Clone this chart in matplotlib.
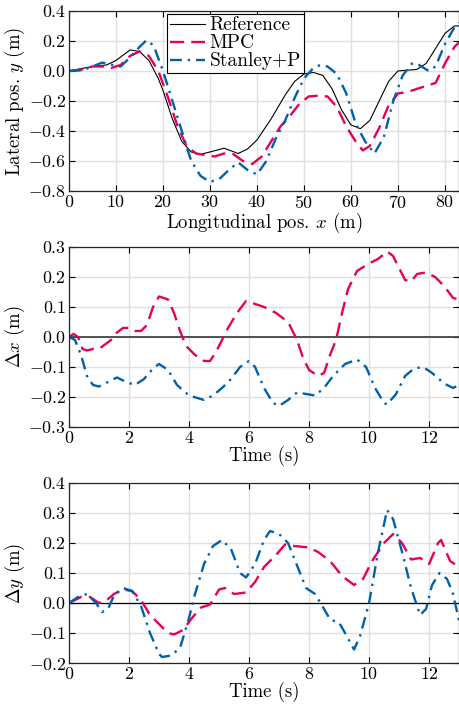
import matplotlib
matplotlib.use('Agg')
import matplotlib.pyplot as plt

plt.rcParams['font.family'] = 'serif'
plt.rcParams['font.serif'] = ['cmr10']
plt.rcParams['mathtext.fontset'] = 'cm'
plt.rcParams['axes.formatter.use_mathtext'] = True
plt.rcParams['font.size'] = 13
plt.rcParams['xtick.labelsize'] = 12.8
plt.rcParams['ytick.labelsize'] = 12.8
plt.rcParams['axes.labelsize'] = 13.5

# --- top panel: path in x-y plane ---
ref_x = [0, 5, 8, 10, 13, 15, 17, 19, 20, 22, 24, 26, 28, 30, 33, 36, 38, 40, 43, 46, 48, 50,
         52, 54, 56, 58, 60, 62, 64, 66, 68, 70, 72, 74, 76, 78, 80, 82, 83]
ref_y = [0, 0.03, 0.04, 0.07, 0.14, 0.13, 0.07, -0.05, -0.13, -0.32, -0.47, -0.54, -0.555, -0.54,
         -0.515, -0.55, -0.52, -0.46, -0.32, -0.16, -0.07, -0.02, -0.01, -0.03, -0.12, -0.26,
         -0.36, -0.385, -0.33, -0.2, -0.07, 0.0, 0.005, 0.01, 0.05, 0.15, 0.25, 0.30, 0.30]

mpc_x = [0, 3, 5, 7, 9, 11, 13, 15, 17, 19, 21, 23, 25, 27, 29, 31, 33, 35, 37, 39, 41, 43, 45,
         47, 49, 51, 53, 55, 57, 59, 61, 62.5, 64, 66, 68, 70, 72, 74, 76, 78, 80, 82, 83]
mpc_y = [0, 0.01, 0.03, 0.03, 0.02, 0.04, 0.1, 0.13, 0.1, 0.0, -0.17, -0.36, -0.5, -0.55, -0.56,
         -0.57, -0.55, -0.555, -0.6, -0.62, -0.57, -0.47, -0.37, -0.3, -0.22, -0.17, -0.165,
         -0.17, -0.24, -0.37, -0.47, -0.53, -0.5, -0.38, -0.23, -0.15, -0.14, -0.12, -0.1, -0.08,
         0.05, 0.16, 0.19]

stp_x = [0, 3, 5, 7, 8.5, 10, 11, 13, 15, 16.5, 18, 20, 22, 24, 26, 28, 30, 32, 34, 36, 38, 40,
         42, 44, 46, 48, 50, 52, 53.5, 55, 57, 59, 61, 63, 65, 67, 69, 71, 73, 74, 75, 76.5, 78,
         80, 82, 83]
stp_y = [0, 0.005, 0.03, 0.055, 0.05, 0.03, 0.03, 0.09, 0.16, 0.205, 0.17, 0.0, -0.2, -0.4, -0.6,
         -0.7, -0.74, -0.72, -0.66, -0.61, -0.66, -0.69, -0.6, -0.45, -0.33, -0.18, -0.05, 0.02,
         0.04, 0.03, -0.02, -0.15, -0.35, -0.47, -0.55, -0.44, -0.2, -0.03, 0.05, 0.05, 0.03,
         0.0, 0.03, 0.18, 0.29, 0.32]

# --- middle panel: longitudinal error ---
dx_mpc_t = [0, 0.15, 0.3, 0.45, 0.6, 0.8, 1.0, 1.2, 1.4, 1.6, 1.8, 2.0, 2.2, 2.4, 2.6, 2.8, 3.0,
            3.3, 3.5, 3.7, 3.9, 4.2, 4.5, 4.7, 4.9, 5.1, 5.3, 5.6, 5.9, 6.2, 6.5, 6.9, 7.3, 7.6,
            7.8, 8.0, 8.3, 8.5, 8.7, 8.9, 9.1, 9.3, 9.6, 10.0, 10.3, 10.6, 10.8, 11.0, 11.2,
            11.4, 11.6, 11.9, 12.2, 12.5, 12.8, 13.0]
dx_mpc = [0.0, 0.01, 0.0, -0.04, -0.045, -0.04, -0.04, -0.025, -0.01, 0.015, 0.03, 0.03, 0.02,
          0.02, 0.04, 0.1, 0.135, 0.125, 0.08, 0.02, -0.03, -0.06, -0.08, -0.08, -0.05, -0.01,
          0.03, 0.08, 0.12, 0.11, 0.1, 0.08, 0.05, -0.01, -0.07, -0.11, -0.13, -0.12, -0.06,
          -0.01, 0.08, 0.16, 0.22, 0.245, 0.26, 0.285, 0.27, 0.23, 0.19, 0.185, 0.21, 0.215,
          0.2, 0.17, 0.13, 0.125]

dx_stp_t = [0, 0.2, 0.4, 0.6, 0.8, 1.0, 1.3, 1.6, 1.9, 2.2, 2.5, 2.8, 3.0, 3.3, 3.6, 4.0, 4.5,
            4.8, 5.1, 5.4, 5.7, 6.0, 6.2, 6.5, 6.8, 7.0, 7.3, 7.6, 7.9, 8.2, 8.5, 8.8, 9.2, 9.6,
            9.9, 10.2, 10.5, 10.6, 10.9, 11.2, 11.5, 11.8, 12.1, 12.5, 12.8, 13.0]
dx_stp = [0.0, -0.01, -0.06, -0.13, -0.16, -0.165, -0.15, -0.135, -0.15, -0.16, -0.14, -0.105,
          -0.09, -0.11, -0.16, -0.195, -0.21, -0.195, -0.17, -0.14, -0.1, -0.08, -0.1, -0.17,
          -0.22, -0.23, -0.21, -0.185, -0.19, -0.195, -0.17, -0.13, -0.09, -0.075, -0.1, -0.17,
          -0.22, -0.225, -0.19, -0.13, -0.105, -0.1, -0.12, -0.155, -0.17, -0.16]

# --- bottom panel: lateral error ---
dy_mpc_t = [0, 0.4, 0.7, 1.0, 1.2, 1.5, 1.8, 2.1, 2.4, 2.7, 3.0, 3.3, 3.5, 3.8, 4.1, 4.4, 4.7,
            5.0, 5.2, 5.5, 5.9, 6.2, 6.5, 6.9, 7.2, 7.5, 8.0, 8.3, 8.7, 9.1, 9.5, 9.8, 10.1,
            10.5, 10.8, 11.1, 11.4, 11.7, 12.0, 12.3, 12.4, 12.7, 13.0]
dy_mpc = [0, 0.02, 0.02, 0.0, 0.005, 0.03, 0.045, 0.04, 0.01, -0.04, -0.07, -0.1, -0.105, -0.09,
          -0.05, -0.015, -0.005, 0.045, 0.05, 0.03, 0.035, 0.07, 0.12, 0.16, 0.195, 0.19, 0.185,
          0.17, 0.14, 0.09, 0.06, 0.08, 0.14, 0.2, 0.23, 0.2, 0.145, 0.15, 0.13, 0.2, 0.21,
          0.14, 0.12]

dy_stp_t = [0, 0.3, 0.6, 0.9, 1.1, 1.3, 1.5, 1.8, 2.1, 2.4, 2.7, 3.0, 3.1, 3.4, 3.7, 4.0, 4.2,
            4.5, 4.8, 5.1, 5.4, 5.7, 5.9, 6.2, 6.5, 6.7, 7.0, 7.3, 7.7, 7.9, 8.2, 8.5, 8.7, 9.0,
            9.2, 9.5, 9.7, 10.0, 10.3, 10.6, 10.8, 11.1, 11.4, 11.7, 11.9, 12.1, 12.35, 12.6,
            12.8, 13.0]
dy_stp = [0, 0.02, 0.03, 0.0, -0.03, -0.02, 0.025, 0.05, 0.04, -0.01, -0.1, -0.17, -0.18, -0.175,
          -0.15, -0.05, 0.03, 0.13, 0.19, 0.21, 0.18, 0.1, 0.085, 0.13, 0.21, 0.24, 0.23, 0.2,
          0.1, 0.05, 0.03, -0.02, -0.055, -0.065, -0.1, -0.155, -0.11, 0.0, 0.17, 0.31, 0.28,
          0.17, 0.05, -0.04, -0.02, 0.06, 0.1, 0.08, 0.03, -0.06]

c_mpc = '#e6005c'
c_stp = '#0061aa'
mpc_kw = dict(color=c_mpc, linestyle=(0, (6, 3)), linewidth=1.7)
stp_kw = dict(color=c_stp, linestyle=(0, (5, 2.5, 1, 2.5)), linewidth=1.7)

def style(ax):
  ax.grid(True, color='#e0e0e0', linewidth=1.0)
  ax.set_axisbelow(True)
  ax.tick_params(direction='in', top=True, right=True, length=4, width=0.8, pad=2)
  for s in ax.spines.values():
    s.set_linewidth(0.9)
    s.set_color('#262626')

fig = plt.figure(figsize=(4.6, 7.06), dpi=100)
L, W, H = 0.15, 0.848, 0.255

ax1 = fig.add_axes((L, 0.7295, W, H))
ax1.plot(ref_x, ref_y, color='black', linewidth=0.8, label='Reference')
ax1.plot(mpc_x, mpc_y, label='MPC', **mpc_kw)
ax1.plot(stp_x, stp_y, label='Stanley+P', **stp_kw)
ax1.set_xlim(0, 83)
ax1.set_ylim(-0.8, 0.4)
ax1.set_xticks(range(0, 81, 10))
ax1.set_yticks([-0.8, -0.6, -0.4, -0.2, 0, 0.2, 0.4])
ax1.set_xlabel(r'Longitudinal pos. $x$ (m)', labelpad=0)
ax1.set_ylabel(r'Lateral pos. $y$ (m)', labelpad=1)
style(ax1)
leg = ax1.legend(loc='upper left', bbox_to_anchor=(0.251, 0.985), fancybox=False, framealpha=1,
                 edgecolor='black', borderpad=0.15, labelspacing=0.0, handlelength=1.8,
                 handletextpad=0.25, borderaxespad=0.0, fontsize=14)
leg.get_frame().set_linewidth(0.8)

ax2 = fig.add_axes((L, 0.3952, W, H))
ax2.axhline(0, color='#444444', linewidth=1.3, zorder=1)
ax2.plot(dx_mpc_t, dx_mpc, **mpc_kw)
ax2.plot(dx_stp_t, dx_stp, **stp_kw)
ax2.set_xlim(0, 13)
ax2.set_ylim(-0.3, 0.3)
ax2.set_xticks(range(0, 13, 2))
ax2.set_yticks([-0.3, -0.2, -0.1, 0, 0.1, 0.2, 0.3])
ax2.set_xlabel('Time (s)', labelpad=0)
ax2.set_ylabel(r'$\Delta x$ (m)', labelpad=1)
style(ax2)

ax3 = fig.add_axes((L, 0.0609, W, H))
ax3.axhline(0, color='black', linewidth=0.9, zorder=1)
ax3.plot(dy_mpc_t, dy_mpc, **mpc_kw)
ax3.plot(dy_stp_t, dy_stp, **stp_kw)
ax3.set_xlim(0, 13)
ax3.set_ylim(-0.2, 0.4)
ax3.set_xticks(range(0, 13, 2))
ax3.set_yticks([-0.2, -0.1, 0, 0.1, 0.2, 0.3, 0.4])
ax3.set_xlabel('Time (s)', labelpad=0)
ax3.set_ylabel(r'$\Delta y$ (m)', labelpad=1)
style(ax3)

fig.savefig('out.png', dpi=100)
plt.close(fig)
